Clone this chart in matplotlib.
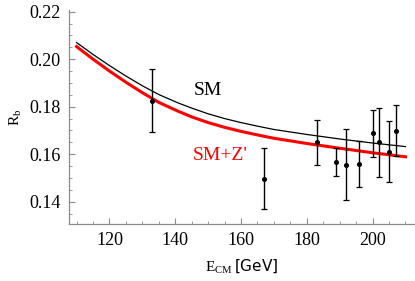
"""R_b vs centre-of-mass energy: SM and SM+Z' predictions against LEP data."""
import numpy as np
import matplotlib
matplotlib.use("Agg")
import matplotlib.pyplot as plt
from matplotlib.ticker import MultipleLocator, FormatStrFormatter

plt.rcParams.update({
    "font.family": "serif",
    "font.serif": ["Liberation Serif", "DejaVu Serif"],
    "mathtext.fontset": "custom",
    "mathtext.rm": "Liberation Serif",
    "mathtext.sf": "DejaVu Sans",
})

# ---- data ----
e_data = [133, 167, 183, 189, 192, 196, 200, 202, 205, 207]
rb_data = [0.1826, 0.1497, 0.1650, 0.1568, 0.1555, 0.1560, 0.1688, 0.1650, 0.1611, 0.1699]
rb_err = [0.0131, 0.0127, 0.0094, 0.0060, 0.0149, 0.0097, 0.0099, 0.0145, 0.0127, 0.0107]

e_curve = [110, 115, 120, 125, 130, 135, 141, 145, 150, 155, 160, 165, 170,
           180, 190, 200, 210]
rb_sm = [0.2070, 0.2020, 0.1973, 0.1929, 0.1888, 0.1851, 0.1815, 0.1794, 0.1770,
         0.1750, 0.1733, 0.1718, 0.1704, 0.1683, 0.1664, 0.1647, 0.1632]
rb_smz = [0.2053, 0.2000, 0.1950, 0.1903, 0.1859, 0.1818, 0.1780, 0.1757, 0.1733,
          0.1713, 0.1696, 0.1681, 0.1667, 0.1645, 0.1625, 0.1606, 0.1589]

AXIS_GREY = "#8c8c8c"

fig = plt.figure(figsize=(4.15, 2.81), dpi=100)
ax = fig.add_axes([0.1663, 0.2028, 0.8337, 0.7616])

ax.plot(e_curve, rb_sm, color="black", lw=0.9, zorder=2)
ax.plot(e_curve, rb_smz, color="#ff0000", lw=2.2, zorder=2)
ax.errorbar(e_data, rb_data, yerr=rb_err, fmt="o", color="black", ms=2.6,
            elinewidth=1.0, capsize=2.2, capthick=0.9, zorder=3)

ax.text(150, 0.1870, "SM", fontsize=14, ha="center", va="center")
ax.text(153.6, 0.1596, "SM+Z'", fontsize=14, ha="center", va="center",
        color="#ff0000")

ax.set_xlim(107.7, 212.9)
ax.set_ylim(0.1306, 0.2207)
ax.xaxis.set_major_locator(MultipleLocator(20))
ax.xaxis.set_minor_locator(MultipleLocator(5))
ax.yaxis.set_major_locator(MultipleLocator(0.02))
ax.yaxis.set_minor_locator(MultipleLocator(0.005))
ax.yaxis.set_major_formatter(FormatStrFormatter("%.2f"))

for sp in ("top", "right"):
    ax.spines[sp].set_visible(False)
for sp in ("left", "bottom"):
    ax.spines[sp].set_color(AXIS_GREY)
    ax.spines[sp].set_linewidth(0.9)
ax.tick_params(which="both", direction="in", color=AXIS_GREY, labelsize=13,
               pad=6)
ax.tick_params(which="major", length=4, width=0.8)
ax.tick_params(which="minor", length=2, width=0.6)

ax.set_ylabel(r"R$_\mathrm{b}$", fontsize=11, labelpad=4)
ax.set_xlabel(r"E$_\mathrm{CM}$$\,\mathsf{[GeV]}$", fontsize=11, labelpad=6)

fig.savefig("out.png", dpi=100)
